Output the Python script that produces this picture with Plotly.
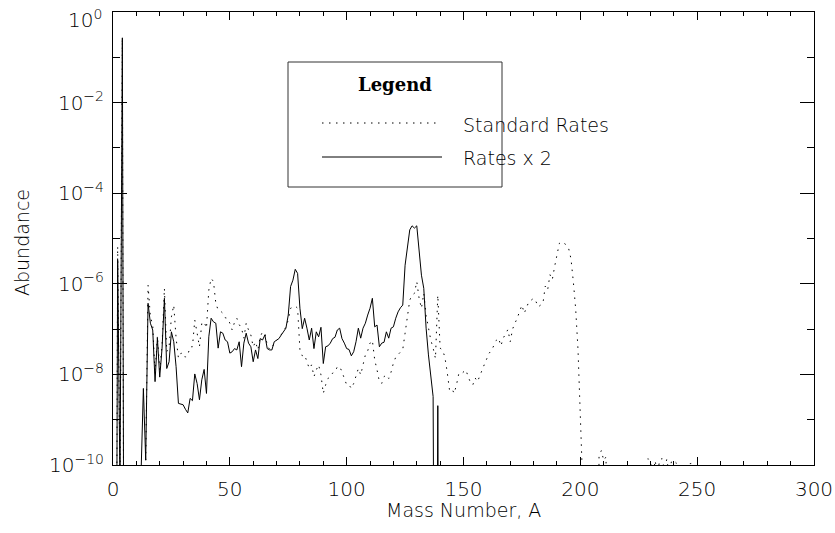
import plotly.graph_objects as go

# ---------------- data (log10 of abundance) ----------------
mass_std = list(range(1, 250))
std_log10 = [
    -20, -5.18, -10.5, -0.60, -20, -20, -20, -20, -20, -20,
    -20, -20, -20, -9.95, -6.03, -6.73, -6.91, -8.00, -7.15, -7.90,
    -7.35, -6.10, -7.50, -7.39, -6.73, -6.47, -7.20, -7.64, -7.54, -7.52,
    -7.62, -7.57, -7.39, -7.39, -6.80, -7.09, -7.39, -6.87, -6.84, -6.98,
    -6.14, -5.88, -5.95, -6.43, -6.58, -6.60, -6.65, -6.75, -6.76, -6.87,
    -7.02, -6.85, -6.76, -6.90, -6.98, -7.20, -6.87, -7.02, -7.13, -7.39,
    -7.28, -7.46, -7.17, -7.06, -7.09, -7.35, -7.45, -7.42, -7.30, -7.25,
    -7.20, -7.12, -7.05, -6.95, -6.80, -6.54, -6.51, -6.49, -6.54, -7.46,
    -7.59, -7.57, -7.72, -7.87, -7.79, -8.05, -7.90, -7.79, -8.01, -8.42,
    -8.23, -8.09, -8.05, -7.97, -7.95, -7.83, -7.83, -7.94, -8.09, -8.23,
    -8.23, -8.31, -8.20, -8.01, -7.87, -8.01, -7.76, -7.57, -7.48, -7.31,
    -7.25, -7.68, -7.90, -8.16, -8.20, -8.05, -8.01, -8.09, -7.95, -7.75,
    -7.62, -7.57, -7.52, -7.45, -7.09, -6.70, -6.36, -6.25, -6.21, -5.95,
    -6.32, -6.54, -6.21, -6.70, -7.00, -7.24, -7.42, -7.65, -6.25, -7.42,
    -7.46, -7.61, -7.94, -8.34, -8.31, -8.42, -8.23, -7.98, -7.99, -7.95,
    -7.90, -8.05, -8.18, -8.23, -8.08, -8.16, -8.01, -7.90, -7.77, -7.65,
    -7.53, -7.47, -7.35, -7.25, -7.20, -7.37, -7.20, -7.12, -7.01, -7.28,
    -7.00, -6.87, -6.76, -6.61, -6.47, -6.65, -6.51, -6.39, -6.36, -6.32,
    -6.39, -6.51, -6.47, -6.43, -6.05, -6.14, -5.80, -5.91, -5.62, -5.35,
    -5.11, -5.07, -5.11, -5.14, -5.22, -5.45, -5.95, -6.55, -7.45, -8.75,
    -10.4, -20, -20, -20, -20, -20, -20, -9.80, -9.68, -9.90,
    -9.82, -20, -20, -20, -20, -20, -20, -20, -20, -20,
    -20, -20, -20, -20, -20, -20, -20, -20, -9.86, -9.92,
    -10.3, -9.90, -10.2, -9.88, -9.86, -10.1, -9.87, -10.2, -9.92, -9.90,
    -9.95, -10.3, -20, -20, -20, -20, -9.97, -9.96, -20,
]

mass_x2 = list(range(1, 141))
x2_log10 = [
    -20, -5.47, -10.5, -0.57, -20, -20, -20, -20, -20, -20,
    -20, -10.2, -8.31, -9.89, -6.43, -6.87, -7.02, -8.16, -7.20, -8.06,
    -7.42, -6.32, -7.87, -7.72, -7.06, -7.28, -7.83, -8.64, -8.66, -8.67,
    -8.77, -8.85, -8.53, -8.58, -7.99, -8.20, -8.56, -8.12, -7.89, -8.42,
    -7.17, -6.76, -6.84, -6.87, -7.42, -7.06, -7.09, -7.24, -7.28, -7.53,
    -7.50, -7.43, -7.46, -7.28, -7.83, -7.31, -7.09, -7.31, -7.39, -7.72,
    -7.46, -7.65, -7.21, -7.24, -7.13, -7.43, -7.46, -7.46, -7.28, -7.24,
    -7.21, -7.13, -7.06, -6.98, -6.69, -6.06, -5.92, -5.68, -5.77, -6.54,
    -6.99, -6.76, -6.98, -7.24, -6.98, -7.43, -7.06, -7.17, -6.96, -7.76,
    -7.39, -7.37, -7.31, -7.21, -7.18, -7.02, -6.98, -7.21, -7.31, -7.43,
    -7.45, -7.59, -7.50, -7.28, -6.98, -7.20, -6.98, -6.87, -6.69, -6.54,
    -6.32, -6.95, -6.91, -7.39, -7.31, -7.29, -7.06, -7.20, -6.98, -6.95,
    -6.76, -6.62, -6.53, -6.47, -5.59, -5.22, -4.81, -4.72, -4.77, -4.72,
    -5.25, -5.81, -6.10, -6.98, -7.57, -8.02, -8.49, -20, -8.69, -20,
]

series_names = ["Standard Rates", "Rates x 2"]
x_tick_vals = [0, 50, 100, 150, 200, 250, 300]
y_major_exps = [0, -2, -4, -6, -8, -10]
y_minor_exps = [-1, -3, -5, -7, -9]

# ---------------- figure ----------------
W, H = 835, 533
L, R, T, B = 113, 814, 12, 465  # plot box in pixels
FONT = "DejaVu Sans"
INK = "#000000"
TXT = dict(family=FONT, size=19, color=INK, weight=200)
DOT = "1.5px,5.5px"


def sup_label(e):
    return "10<sup>%s</sup>" % (str(e).replace("-", "\u2212"))


std_vals = [10 ** v for v in std_log10]
x2_vals = [10 ** v for v in x2_log10]

fig = go.Figure()
fig.add_trace(go.Scatter(x=mass_std, y=std_vals, mode="lines", name=series_names[0],
                         line=dict(color="black", width=1, dash=DOT),
                         showlegend=False))
fig.add_trace(go.Scatter(x=mass_x2, y=x2_vals, mode="lines", name=series_names[1],
                         line=dict(color="black", width=1),
                         showlegend=False))


def px(xp):
    return (xp - L) / (R - L)


def py(yp):
    return (B - yp) / (B - T)


# legend box drawn by hand
shapes = [
    dict(type="rect", xref="paper", yref="paper", x0=px(288), x1=px(502), y0=py(187), y1=py(62),
         line=dict(color="#333333", width=1), fillcolor="white", layer="above"),
    dict(type="line", xref="paper", yref="paper", x0=px(322), x1=px(441), y0=py(123), y1=py(123),
         line=dict(color="black", width=1, dash=DOT), layer="above"),
    dict(type="line", xref="paper", yref="paper", x0=px(322), x1=px(442), y0=py(157), y1=py(157),
         line=dict(color="black", width=1), layer="above"),
]
# top tick label (10^0) sits a little lower than its tick, as in the reference
top_exp = y_major_exps[0]
annotations = [
    dict(text=sup_label(top_exp), xref="paper", yref="paper", x=px(104), y=py(19), showarrow=False,
         xanchor="right", yanchor="middle", font=dict(family=FONT, size=20, color=INK, weight=200)),
    dict(text="Legend", xref="paper", yref="paper", x=px(395), y=py(84), showarrow=False,
         xanchor="center", yanchor="middle",
         font=dict(family="DejaVu Serif", size=18, color=INK, weight="bold")),
    dict(text=series_names[0], xref="paper", yref="paper", x=px(461), y=py(125), showarrow=False,
         xanchor="left", yanchor="middle", font=TXT),
    dict(text=series_names[1], xref="paper", yref="paper", x=px(461), y=py(158), showarrow=False,
         xanchor="left", yanchor="middle", font=TXT),
    dict(text="Mass Number, A", xref="paper", yref="paper", x=0.5, y=py(510), showarrow=False,
         xanchor="center", yanchor="middle", font=TXT),
    dict(text="Abundance", xref="paper", yref="paper", x=px(22), y=py(243), showarrow=False,
         textangle=-90, xanchor="center", yanchor="middle", font=TXT),
]

fig.update_layout(
    width=W, height=H,
    margin=dict(l=L, r=W - R, t=T, b=H - B, pad=0, autoexpand=False),
    plot_bgcolor="white", paper_bgcolor="white",
    shapes=shapes, annotations=annotations,
    font=dict(family=FONT, size=20, color=INK, weight=200),
)
fig.update_xaxes(
    range=[0, 300], showgrid=False, zeroline=False, automargin=False,
    showline=True, linecolor="black", linewidth=1, mirror="ticks",
    ticks="inside", ticklen=8, tickwidth=1, tickcolor="black",
    tickvals=x_tick_vals, ticktext=[str(v) for v in x_tick_vals],
    ticklabelstandoff=6, ticklabeloverflow="allow",
    minor=dict(tickvals=[v for v in range(10, 300, 10) if v % 50], ticks="inside",
               ticklen=4, tickwidth=1, tickcolor="black", showgrid=False),
)
fig.update_yaxes(
    type="log", range=[-10, 0], showgrid=False, zeroline=False, automargin=False,
    showline=True, linecolor="black", linewidth=1, mirror="ticks",
    ticks="inside", ticklen=14, tickwidth=1, tickcolor="black",
    tickvals=[10 ** e for e in y_major_exps],
    ticktext=["" if e == top_exp else sup_label(e) for e in y_major_exps],
    ticklabelstandoff=4, ticklabeloverflow="allow",
    minor=dict(tickvals=[10 ** e for e in y_minor_exps], ticks="inside",
               ticklen=7, tickwidth=1, tickcolor="black", showgrid=False),
)

fig.write_html("out.html")
